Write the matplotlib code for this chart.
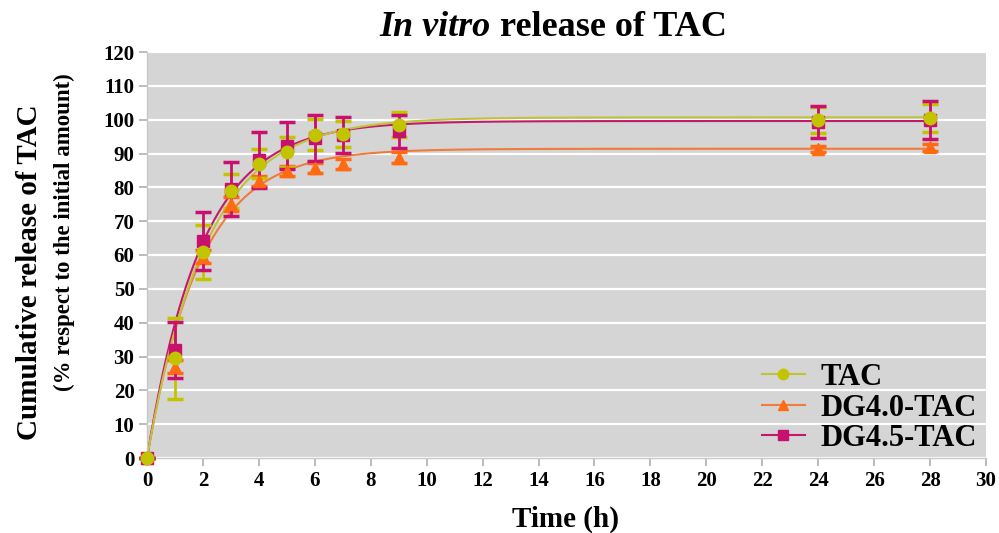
import numpy as np
import matplotlib
matplotlib.use("Agg")
import matplotlib.pyplot as plt

# ---- data ----
time_h = [0, 1, 2, 3, 4, 5, 6, 7, 9, 24, 28]

tac_mean = [0, 29.5, 61.0, 79.0, 87.0, 90.5, 95.5, 95.8, 98.5, 100.0, 100.5]
tac_err = [0, 12.0, 8.0, 5.0, 4.2, 4.5, 4.6, 3.8, 3.7, 3.8, 4.2]

dg40_mean = [0, 27.0, 59.5, 75.0, 81.8, 84.8, 85.8, 86.8, 88.8, 91.3, 91.8]
dg40_err = [0, 2.0, 2.0, 2.0, 1.5, 1.5, 1.5, 1.5, 1.5, 1.0, 1.0]

dg45_mean = [0, 32.0, 64.2, 79.5, 88.2, 92.3, 94.5, 95.5, 96.6, 99.3, 99.8]
dg45_err = [0, 8.3, 8.6, 8.0, 8.3, 7.0, 6.8, 5.3, 4.9, 4.6, 5.6]

# first-order fit parameters (Ymax, k) for the drawn model curves
fit_ymax = {"TAC": 100.7, "DG4.0-TAC": 91.4, "DG4.5-TAC": 99.6}
fit_k = {"TAC": 0.47, "DG4.0-TAC": 0.53, "DG4.5-TAC": 0.51}

series_names = ["TAC", "DG4.0-TAC", "DG4.5-TAC"]
colors = {"TAC": "#c3c400", "DG4.0-TAC": "#ff6a13", "DG4.5-TAC": "#c8106e"}
line_colors = {"TAC": "#c2c23a", "DG4.0-TAC": "#f07b3c", "DG4.5-TAC": "#c01a6a"}
markers = {"TAC": "o", "DG4.0-TAC": "^", "DG4.5-TAC": "s"}
msizes = {"TAC": 9, "DG4.0-TAC": 8.5, "DG4.5-TAC": 8}
leg_msizes = {"TAC": 7.5, "DG4.0-TAC": 7.5, "DG4.5-TAC": 7}
means = {"TAC": tac_mean, "DG4.0-TAC": dg40_mean, "DG4.5-TAC": dg45_mean}
errs = {"TAC": tac_err, "DG4.0-TAC": dg40_err, "DG4.5-TAC": dg45_err}

y_ticks = list(range(0, 121, 10))
x_ticks = list(range(0, 31, 2))

# ---- figure ----
SERIF = ["Liberation Serif", "DejaVu Serif"]
fig = plt.figure(figsize=(9.99, 5.33), dpi=100)
ax = fig.add_axes([147 / 999, 1 - 458 / 533, (986 - 147) / 999, (458 - 52) / 533])
ax.set_facecolor("#d5d5d5")
ax.set_xlim(0, 30)
ax.set_ylim(0, 120)

for y in y_ticks:
    ax.axhline(y, color="white", lw=1.6, zorder=1)

t_curve = np.linspace(0, 28, 400)
for name in ["DG4.0-TAC", "DG4.5-TAC", "TAC"]:
    ax.plot(t_curve, fit_ymax[name] * (1 - np.exp(-fit_k[name] * t_curve)),
            color=line_colors[name], lw=1.5, zorder=2)

# error bars
for name in ["DG4.0-TAC", "TAC", "DG4.5-TAC"]:
    ax.errorbar(time_h, means[name], yerr=errs[name], fmt="none",
                ecolor=colors[name], elinewidth=2.0, capsize=6, capthick=2.5,
                zorder=3, clip_on=False)

# markers
for name in ["DG4.0-TAC", "DG4.5-TAC", "TAC"]:
    ax.plot(time_h, means[name], linestyle="none", marker=markers[name],
            ms=msizes[name], color=colors[name], mec=colors[name],
            zorder=4, clip_on=False)

# legend handles
handles = []
for name in series_names:
    h, = ax.plot([], [], color=line_colors[name], lw=1.5, marker=markers[name],
                 ms=leg_msizes[name], mfc=colors[name], mec=colors[name])
    handles.append(h)
leg = fig.legend(handles, series_names, loc="upper left",
                 bbox_to_anchor=(762 / 999, 1 - 363 / 533),
                 bbox_transform=fig.transFigure, frameon=False,
                 prop={"family": SERIF, "weight": "bold", "size": 22},
                 handlelength=1.4, handletextpad=0.5, labelspacing=0.05,
                 borderpad=0, borderaxespad=0)

for s in ["top", "right"]:
    ax.spines[s].set_visible(False)
for s in ["left", "bottom"]:
    ax.spines[s].set_color("#c8c8c8")
    ax.spines[s].set_linewidth(1.0)

ax.set_yticks(y_ticks)
ax.set_xticks(x_ticks)
ax.tick_params(axis="both", direction="out", length=6, width=1.2,
               color="#b0b0b0", pad=3)
for lab in ax.get_xticklabels() + ax.get_yticklabels():
    lab.set_fontfamily(SERIF)
    lab.set_fontweight("bold")
    lab.set_fontsize(15)

# axis labels
fig.text(566 / 999, 1 - 519 / 533, "Time (h)", ha="center", va="center",
         family=SERIF, weight="bold", size=21)
fig.text(30 / 999, 1 - 272 / 533, "Cumulative release of TAC", ha="center",
         va="center", rotation=90, family=SERIF, weight="bold", size=21)
fig.text(64 / 999, 1 - 232 / 533, "(% respect to the initial amount)",
         ha="center", va="center", rotation=90, family=SERIF, weight="bold",
         size=16.5)

# title with italic part
fig.canvas.draw()
renderer = fig.canvas.get_renderer()
t1 = fig.text(0, 1 - 27 / 533, "In vitro", ha="left", va="center",
              family=SERIF, weight="bold", style="italic", size=26)
t2 = fig.text(0, 1 - 27 / 533, " release of TAC", ha="left", va="center",
              family=SERIF, weight="bold", size=26)
w1 = t1.get_window_extent(renderer).width
w2 = t2.get_window_extent(renderer).width
x_center = 553
x_left = x_center - (w1 + w2) / 2
t1.set_x(x_left / 999)
t2.set_x((x_left + w1) / 999)

fig.savefig("out.png", dpi=100)
